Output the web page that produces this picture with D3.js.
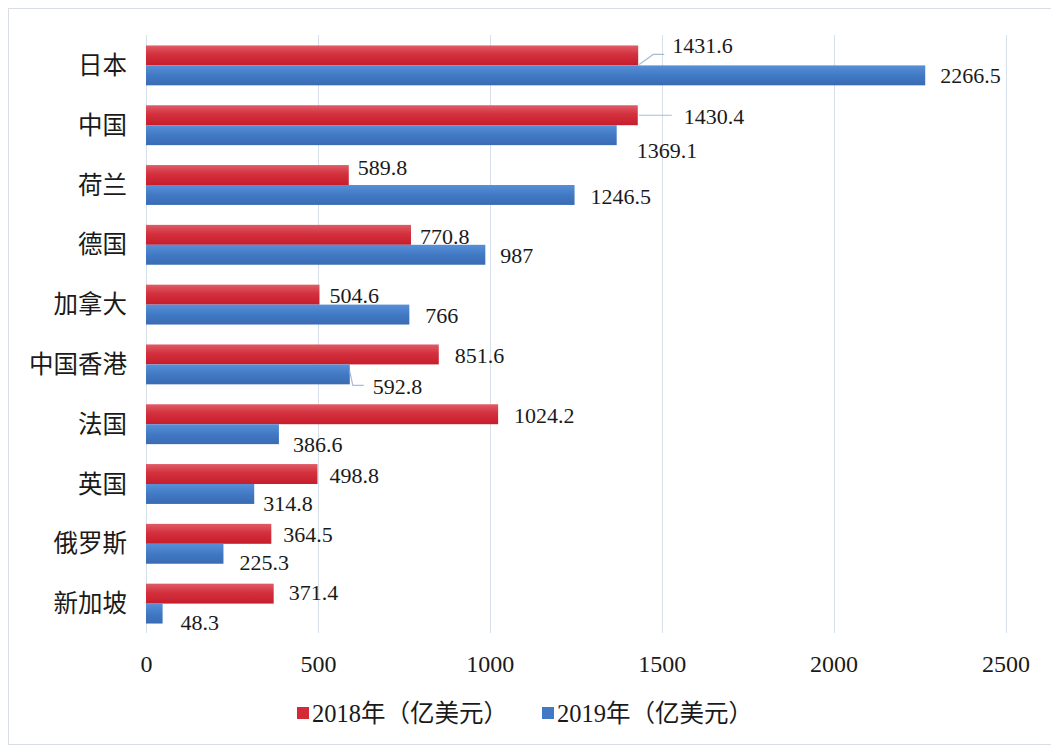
<!DOCTYPE html>
<html>
<head>
<meta charset="utf-8">
<script src="https://cdn.jsdelivr.net/npm/d3@7"></script>
<style>
  html, body { margin: 0; padding: 0; background: #fff; }
  svg { display: block; }
  text { fill: #1a1a1a; }
</style>
</head>
<body>
<svg id="chart" width="1051" height="747"></svg>
<script>
// ---- data ----
const categories = ["日本", "中国", "荷兰", "德国", "加拿大", "中国香港", "法国", "英国", "俄罗斯", "新加坡"];
const seriesNames = ["2018年（亿美元）", "2019年（亿美元）"];
const values2018 = [1431.6, 1430.4, 589.8, 770.8, 504.6, 851.6, 1024.2, 498.8, 364.5, 371.4];
const values2019 = [2266.5, 1369.1, 1246.5, 987, 766, 592.8, 386.6, 314.8, 225.3, 48.3];
const xTicks = [0, 500, 1000, 1500, 2000, 2500];

// ---- label layout (offsets from bar end / bar centre, in px) ----
const nudge2018 = [[34, -10], [46, 1], [9, -8], [9, 1], [10, 1], [16, 1], [16, 1], [12, 1], [12, 0], [15, -1]];
const nudge2019 = [[15, 0], [20, 15], [16, 1], [15, 1], [16, 1], [23, 12], [14, 10], [9, 9], [16, 9], [18, 9]];

const svg = d3.select("#chart");
const numFont = "'Liberation Serif', 'Times New Roman', serif";
const cjkFont = "'Liberation Serif', 'Noto Sans CJK SC', serif";

// frame
svg.append("rect").attr("x", 8.5).attr("y", 8.5).attr("width", 1060).attr("height", 736)
  .attr("fill", "#fff").attr("stroke", "#d9dee5").attr("stroke-width", 1);

const x = d3.scaleLinear().domain([0, 2500]).range([146, 1005.5]);
const y = d3.scaleBand().domain(categories).range([35.5, 633.5]).paddingInner(1 / 3).paddingOuter(1 / 6);
const ySub = d3.scaleBand().domain(["2018", "2019"]).range([0, y.bandwidth()]);

// gradients
const defs = svg.append("defs");
function grad(id, stops) {
  const g = defs.append("linearGradient").attr("id", id).attr("x1", 0).attr("y1", 0).attr("x2", 0).attr("y2", 1);
  stops.forEach(s => g.append("stop").attr("offset", s[0]).attr("stop-color", s[1]));
}
grad("gRed", [[0, "#df5c66"], [0.45, "#d3303d"], [1, "#c71d2c"]]);
grad("gBlue", [[0, "#5790d8"], [0.5, "#4179c4"], [1, "#3a6bb3"]]);

// gridlines
svg.append("g").selectAll("line").data(xTicks).join("line")
  .attr("x1", d => Math.round(x(d)) + 0.5).attr("x2", d => Math.round(x(d)) + 0.5)
  .attr("y1", 35).attr("y2", 633)
  .attr("stroke", "#d6dfea").attr("stroke-width", 1);

// x axis labels via d3 axis
const xAxis = d3.axisBottom(x).tickValues(xTicks).tickSize(0).tickPadding(0).tickFormat(d3.format("d"));
const gx = svg.append("g").attr("transform", "translate(0,655)").call(xAxis);
gx.select(".domain").remove();
gx.selectAll("text").attr("font-family", numFont).attr("font-size", 24).attr("fill", "#1a1a1a")
  .attr("dy", "0.32em").attr("y", 9);

// category labels via d3 axis
const yAxis = d3.axisLeft(y).tickSize(0).tickPadding(0);
const gy = svg.append("g").attr("transform", "translate(127,0)").call(yAxis);
gy.select(".domain").remove();
gy.selectAll("text").attr("font-family", cjkFont).attr("font-size", 24.5).attr("fill", "#1a1a1a")
  .attr("dy", "0.35em");

// bars
const series = [
  { key: "2018", vals: values2018, fill: "url(#gRed)", nudge: nudge2018 },
  { key: "2019", vals: values2019, fill: "url(#gBlue)", nudge: nudge2019 }
];
series.forEach(s => {
  const rows = categories.map((c, i) => ({ c, v: s.vals[i], n: s.nudge[i] }));
  svg.append("g").selectAll("rect").data(rows).join("rect")
    .attr("x", x(0))
    .attr("y", d => y(d.c) + ySub(s.key))
    .attr("width", d => x(d.v) - x(0))
    .attr("height", ySub.bandwidth())
    .attr("fill", s.fill);
  svg.append("g").selectAll("text").data(rows).join("text")
    .attr("x", d => x(d.v) + d.n[0])
    .attr("y", d => y(d.c) + ySub(s.key) + ySub.bandwidth() / 2 + d.n[1])
    .attr("dy", "0.35em")
    .attr("font-family", numFont).attr("font-size", 22)
    .text(d => d.v);
});

// leader lines
const leader = svg.append("g").attr("fill", "none").attr("stroke", "#a8bcd6").attr("stroke-width", 1.2);
{
  const i = 0, bx = x(values2018[i]), by = y(categories[i]) + ySub("2018") + ySub.bandwidth() / 2;
  leader.append("path").attr("d", `M${bx + 1},${by + 9} L${bx + 15},${by - 1} L${bx + 26},${by - 1}`);
}
{
  const i = 1, bx = x(values2018[i]), by = y(categories[i]) + ySub("2018") + ySub.bandwidth() / 2;
  leader.append("path").attr("d", `M${bx + 1},${by} L${bx + 34},${by}`);
}
{
  const i = 5, bx = x(values2019[i]), by = y(categories[i]) + ySub("2019") + ySub.bandwidth() / 2;
  leader.append("path").attr("d", `M${bx},${by - 3} L${bx + 3},${by + 11} L${bx + 14},${by + 11}`);
}

// legend
const legend = svg.append("g").attr("transform", "translate(297,707)");
const legendItems = [
  { name: seriesNames[0], color: "#d42a38", x: 0 },
  { name: seriesNames[1], color: "#4179c4", x: 245 }
];
legendItems.forEach(d => {
  const g = legend.append("g").attr("transform", `translate(${d.x},0)`);
  g.append("rect").attr("width", 12).attr("height", 12).attr("fill", d.color);
  g.append("text").attr("x", 15).attr("y", 6).attr("dy", "0.35em")
    .attr("font-family", cjkFont).attr("font-size", 24.5).text(d.name);
});
</script>
</body>
</html>
